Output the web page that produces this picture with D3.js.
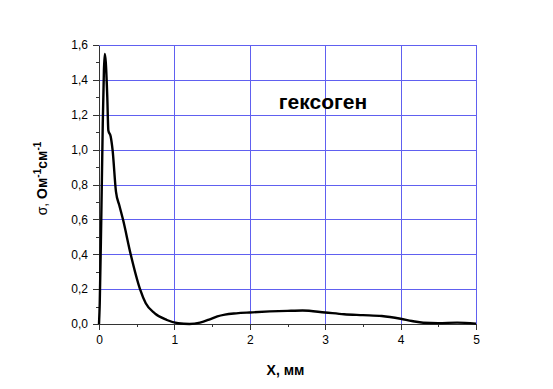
<!DOCTYPE html>
<meta charset="utf-8">
<style>
  body { margin: 0; background: #fff; font: 12px Arial, "Liberation Sans", sans-serif; }
  .grid line { stroke: #6060f0; stroke-width: 1; shape-rendering: crispEdges; }
  .axis path, .axis line { stroke: #333; stroke-width: 1; shape-rendering: crispEdges; fill: none; }
  .axis text { fill: #000; font-size: 12px; font-family: Arial, "Liberation Sans", sans-serif; }
</style>
<body>
<script src="https://d3js.org/d3.v7.min.js"></script>
<script>
  // curve: position (mm) and conductivity
  var xs = [0, 0.01, 0.03, 0.05, 0.065, 0.076, 0.09, 0.11, 0.124, 0.155, 0.18, 0.225, 0.27, 0.32, 0.42, 0.544, 0.62, 0.74, 0.9, 1.05, 1.2, 1.34, 1.47, 1.57, 1.67, 1.82, 2.0, 2.5, 2.7, 3.0, 3.25, 3.5, 3.75, 4.0, 4.15, 4.3, 4.5, 4.75, 5.0];
  var sigma = [0, 0.12, 0.6, 1.15, 1.45, 1.548, 1.5, 1.3, 1.11, 1.075, 0.998, 0.759, 0.68, 0.596, 0.4, 0.2, 0.119, 0.061, 0.023, 0.004, 0.0, 0.008, 0.027, 0.044, 0.054, 0.061, 0.066, 0.075, 0.077, 0.066, 0.056, 0.051, 0.046, 0.03, 0.017, 0.007, 0.005, 0.008, 0.002];
  var xTicks = [0, 1, 2, 3, 4, 5];
  var yTicks = [0, 0.2, 0.4, 0.6, 0.8, 1.0, 1.2, 1.4, 1.6];

  var margin = { top: 45, right: 77, bottom: 65, left: 99 },
    width = 553 - margin.left - margin.right,
    height = 389 - margin.top - margin.bottom;

  var svg = d3.select("body").append("svg")
    .attr("width", 553).attr("height", 389)
    .append("g")
    .attr("transform", "translate(" + margin.left + "," + margin.top + ")");

  var x = d3.scaleLinear().domain([0, 5]).range([0, width]);
  var y = d3.scaleLinear().domain([0, 1.6]).range([height, 0]);

  // grid
  var grid = svg.append("g").attr("class", "grid");
  grid.selectAll(".vx").data(xTicks.slice(1)).enter().append("line")
    .attr("x1", function (d) { return Math.round(x(d)) + 0.5; })
    .attr("x2", function (d) { return Math.round(x(d)) + 0.5; })
    .attr("y1", 0).attr("y2", height);
  grid.selectAll(".hy").data(yTicks.slice(1)).enter().append("line")
    .attr("y1", function (d) { return Math.round(y(d)) + 0.5; })
    .attr("y2", function (d) { return Math.round(y(d)) + 0.5; })
    .attr("x1", 0).attr("x2", width);

  var fmt = function (d) { return d3.format(".1f")(d).replace(".", ","); };

  // minor ticks
  svg.append("g").attr("class", "axis")
    .call(d3.axisLeft(y).tickValues(d3.range(0.1, 1.6, 0.2)).tickSize(3).tickFormat(""))
    .select(".domain").remove();
  svg.append("g").attr("class", "axis")
    .attr("transform", "translate(0," + height + ")")
    .call(d3.axisBottom(x).tickValues(d3.range(0.5, 5, 1)).tickSize(3).tickFormat(""))
    .select(".domain").remove();

  // main axes
  svg.append("g").attr("class", "axis")
    .call(d3.axisLeft(y).tickValues(yTicks).tickSize(6).tickSizeOuter(0).tickPadding(5).tickFormat(fmt));
  svg.append("g").attr("class", "axis")
    .attr("transform", "translate(0," + height + ")")
    .call(d3.axisBottom(x).tickValues(xTicks).tickSize(6).tickSizeOuter(0).tickPadding(5).tickFormat(d3.format("d")));

  // curve
  var pts = xs.map(function (d, i) { return [d, sigma[i]]; });
  svg.append("path")
    .datum(pts)
    .attr("fill", "none")
    .attr("stroke", "#000")
    .attr("stroke-width", 2.4)
    .attr("stroke-linejoin", "round")
    .attr("d", d3.line()
      .x(function (d) { return x(d[0]); })
      .y(function (d) { return y(d[1]); })
      .curve(d3.curveMonotoneX));

  // labels
  svg.append("text")
    .attr("x", x(2.97)).attr("y", 64)
    .attr("text-anchor", "middle")
    .style("font-size", "21px").style("font-weight", "bold")
    .text("гексоген");

  svg.append("text")
    .attr("x", width / 2 - 2).attr("y", height + 51)
    .attr("text-anchor", "middle")
    .style("font-size", "14px").style("font-weight", "bold")
    .text("X, мм");

  var yl = svg.append("text")
    .attr("transform", "translate(-52," + (height / 2 - 6) + ") rotate(-90)")
    .attr("text-anchor", "middle")
    .style("font-size", "14px");
  yl.append("tspan").text("σ, ");
  yl.append("tspan").style("font-weight", "bold").text("Ом");
  yl.append("tspan").style("font-weight", "bold").style("font-size", "10px").attr("dy", -6).text("-1");
  yl.append("tspan").style("font-weight", "bold").attr("dy", 6).text("см");
  yl.append("tspan").style("font-weight", "bold").style("font-size", "10px").attr("dy", -6).text("-1");
</script>
</body>
